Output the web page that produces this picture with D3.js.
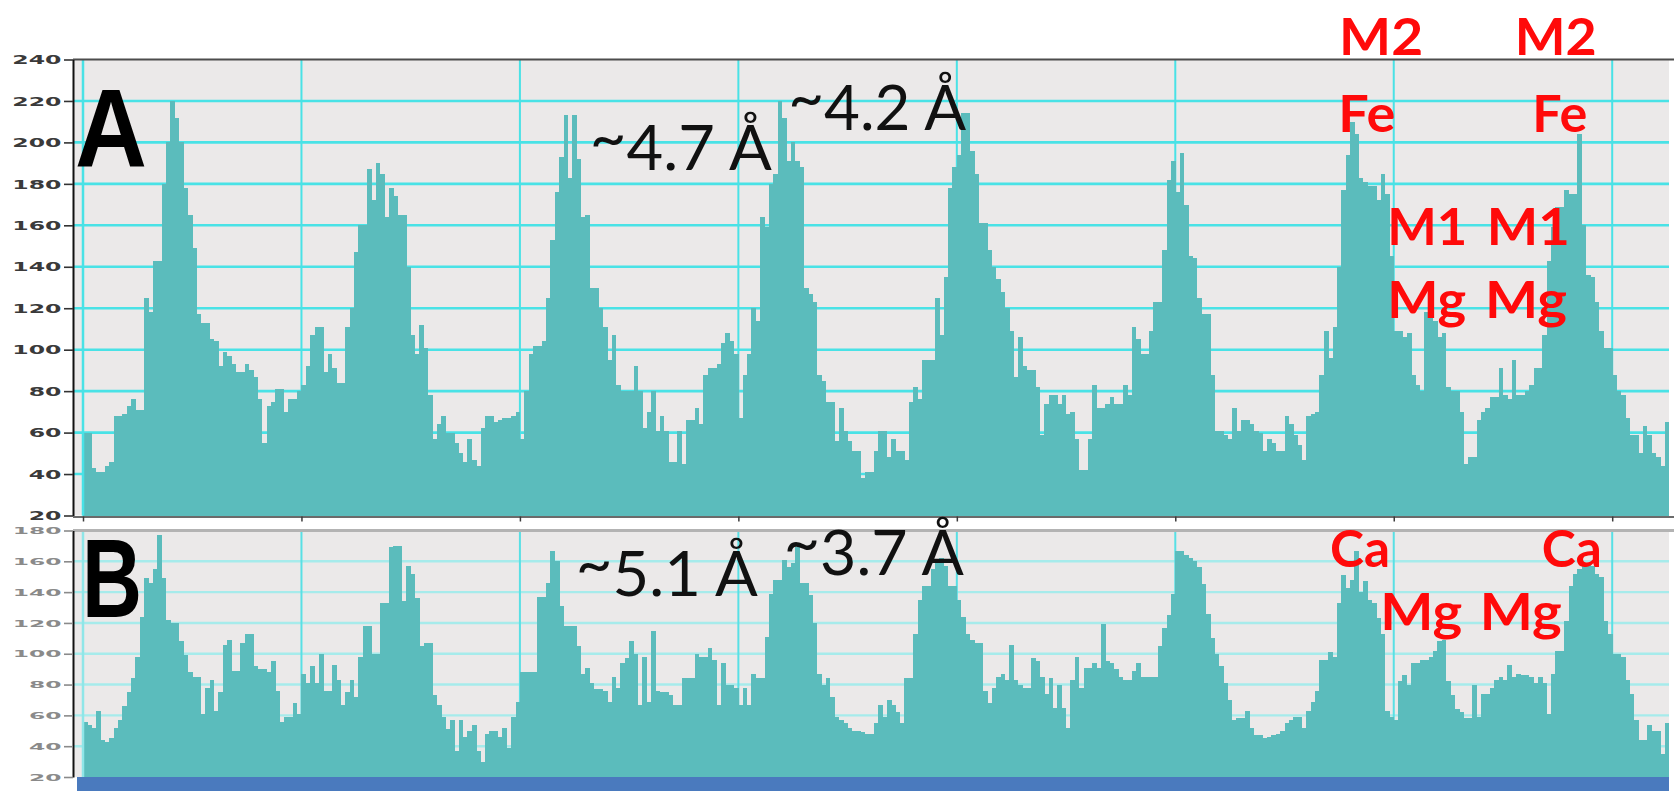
<!DOCTYPE html>
<html>
<head>
<meta charset="utf-8">
<script src="https://cdn.jsdelivr.net/npm/d3@7"></script>
<style>
  html, body { margin: 0; padding: 0; background: #ffffff; }
  svg { display: block; }
</style>
</head>
<body>
<svg id="chart" width="1674" height="791"></svg>
<script>
// Line-profile intensity histograms (one value per bin along the scan line)
const binCount = 363;

const topValues = [
  60,60,43,41,41,44,46,68,68,69,
  73,76,71,71,125,118,143,143,180,200,
  220,212,200,178,165,149,117,113,113,105,
  104,92,99,97,93,89,89,93,90,87,
  76,55,73,75,81,81,70,76,76,80,
  83,92,107,111,111,89,98,91,84,84,
  111,120,147,160,160,187,172,190,185,164,
  178,174,165,165,140,107,98,112,101,78,
  57,64,68,60,60,55,50,46,57,47,
  44,62,68,68,65,66,67,67,68,70,
  57,80,98,102,102,104,125,153,176,193,
  213,183,213,192,164,165,130,130,120,111,
  95,107,83,80,80,80,92,80,62,70,
  80,61,68,61,46,46,61,45,66,66,
  72,64,88,91,91,93,103,108,104,98,
  67,88,98,120,114,164,159,180,185,220,
  212,191,200,191,188,130,127,123,88,85,
  75,75,56,72,61,56,51,51,38,41,
  41,51,61,61,48,57,51,51,47,75,
  82,76,95,95,95,125,107,135,178,188,
  194,214,214,196,185,161,161,148,140,134,
  128,120,109,87,106,92,90,90,82,59,
  74,78,78,74,78,69,70,57,42,42,
  57,83,72,72,74,77,74,74,83,78,
  111,105,98,98,109,123,123,148,182,191,
  176,195,170,145,144,125,117,117,88,61,
  61,59,57,72,61,66,66,64,61,60,
  51,57,55,51,51,68,64,59,54,47,
  68,69,70,88,109,96,111,140,177,194,
  210,204,183,181,179,179,172,185,175,145,
  109,109,106,108,88,83,80,118,118,114,
  106,108,82,80,80,70,45,48,48,66,
  70,72,77,77,91,78,76,95,78,78,
  80,83,91,91,107,143,159,169,169,177,
  175,175,204,160,136,135,123,109,101,101,
  88,80,78,67,59,59,50,63,59,50,
  48,44,65
];

const bottomValues = [
  56,54,52,63,44,43,45,52,57,66,
  75,84,98,124,149,146,155,177,149,122,
  120,120,108,99,88,85,85,61,78,83,
  63,75,106,109,89,89,107,113,113,92,
  90,90,88,95,76,56,59,59,68,61,
  87,81,92,81,100,76,76,93,83,67,
  75,83,72,98,118,118,100,100,133,133,
  169,170,170,134,157,152,136,105,107,107,
  73,67,59,51,57,37,57,46,50,54,
  37,30,48,50,50,46,52,39,59,69,
  88,88,88,88,137,137,146,167,160,131,
  118,118,118,105,87,91,81,77,77,76,
  69,85,78,94,97,108,100,67,98,69,
  115,76,75,75,73,67,67,84,84,84,
  100,98,98,104,96,67,94,80,80,78,
  67,78,67,87,84,84,111,139,148,148,
  161,156,159,169,146,146,138,120,87,80,
  84,72,59,57,55,52,50,50,49,48,
  48,55,67,59,70,67,62,55,84,84,
  113,135,144,144,155,159,162,157,144,144,
  135,124,113,109,107,107,76,68,78,85,
  87,83,106,83,80,78,78,97,95,85,
  74,84,65,80,65,52,83,98,78,91,
  91,94,91,119,95,94,90,85,83,83,
  89,94,85,85,85,85,105,117,125,139,
  167,167,164,162,160,156,145,126,110,100,
  92,81,70,57,58,58,63,52,47,47,
  45,46,47,48,50,55,57,59,59,52,
  63,69,76,96,96,101,98,133,151,143,
  148,167,140,147,135,133,123,113,63,59,
  57,82,86,80,94,94,96,96,98,102,
  108,109,82,73,64,62,58,58,80,59,
  74,74,78,83,85,83,93,85,87,86,
  86,85,81,85,81,61,87,102,102,121,
  144,152,155,159,159,157,152,150,121,113,
  100,100,98,83,74,57,44,44,54,50,
  50,35,55
];

// Axis ticks
const topTicks = [20, 40, 60, 80, 100, 120, 140, 160, 180, 200, 220, 240];
const bottomTicks = [20, 40, 60, 80, 100, 120, 140, 160, 180];
const gridBins = [0, 50, 100, 150, 200, 250, 300, 350];

// Annotations, placed in data units (bin, value)
const topNotes = [
  { text: "A",      bin: -1.83, value: 188.1, kind: "panel", width: 72 },
  { text: "~4.7 Å", bin: 116.0, value: 186.7, kind: "dist",  width: 182 },
  { text: "~4.2 Å", bin: 161.4, value: 206.0, kind: "dist",  width: 178 },
  { text: "M2",     bin: 287.5, value: 242.2, kind: "site",  width: 84 },
  { text: "M2",     bin: 327.7, value: 242.2, kind: "site",  width: 82 },
  { text: "Fe",     bin: 287.3, value: 205.0, kind: "site",  width: 57 },
  { text: "Fe",     bin: 331.7, value: 205.0, kind: "site",  width: 55 },
  { text: "M1",     bin: 298.5, value: 150.5, kind: "site",  width: 80 },
  { text: "M1",     bin: 321.3, value: 150.5, kind: "site",  width: 83 },
  { text: "Mg",     bin: 298.5, value: 115.3, kind: "site",  width: 79 },
  { text: "Mg",     bin: 320.9, value: 115.3, kind: "site",  width: 82 }
];
const bottomNotes = [
  { text: "B",      bin: -0.23, value: 123.9, kind: "panel", width: 60 },
  { text: "~5.1 Å", bin: 112.8, value: 137.5, kind: "dist",  width: 182 },
  { text: "~3.7 Å", bin: 160.4, value: 151.1, kind: "dist",  width: 180 },
  { text: "Ca",     bin: 285.4, value: 156.3, kind: "site",  width: 60 },
  { text: "Ca",     bin: 333.9, value: 156.3, kind: "site",  width: 60 },
  { text: "Mg",     bin: 296.9, value: 115.4, kind: "site",  width: 82 },
  { text: "Mg",     bin: 319.7, value: 115.4, kind: "site",  width: 82 }
];

const noteStyle = {
  panel: { family: "'Liberation Sans', Arial, sans-serif", size: 112, weight: 700, color: "#000000" },
  dist:  { family: "Lato, 'Open Sans', sans-serif", size: 62, weight: 400, color: "#111111" },
  site:  { family: "Lato, 'Open Sans', sans-serif", size: 52, weight: 700, color: "#ff0a0a" }
};

const svg = d3.select("#chart");
const axisX = 73;
const plotRight = 1669;

const x = d3.scaleLinear().domain([0, binCount]).range([83, plotRight]);

const panels = [
  {
    values: topValues, ticks: topTicks, domain: [20, 240], range: [515.5, 59.5], notes: topNotes,
    hGrid: "#49e2e6", hGridW: 2.6, vGrid: "#49e2e6", vGridW: 2,
    labelColor: "#3a3a3a", labelSize: 11.5, labelStretch: 2.05, tickColor: "#333",
    frameColor: "#4d4d4d", frameW: 2, showXAxis: true, band: false
  },
  {
    values: bottomValues, ticks: bottomTicks, domain: [20, 180], range: [777, 530.5], notes: bottomNotes,
    hGrid: "#a6ebeb", hGridW: 2.4, vGrid: "#58e0e5", vGridW: 2,
    labelColor: "#8a8a8a", labelSize: 8.5, labelStretch: 2.75, tickColor: "#8a8a8a",
    frameColor: "#b3b3b3", frameW: 3, showXAxis: false, band: true
  }
];

panels.forEach(p => {
  const y = d3.scaleLinear().domain(p.domain).range(p.range);
  const g = svg.append("g");
  const yTop = y(p.domain[1]);
  const yBot = y(p.domain[0]);

  // plot background
  g.append("rect")
    .attr("x", axisX).attr("y", yTop)
    .attr("width", plotRight - axisX).attr("height", yBot - yTop)
    .attr("fill", "#ebe9e9");

  // horizontal grid
  g.append("g").selectAll("line")
    .data(p.ticks.filter(t => t > p.domain[0] && t < p.domain[1]))
    .join("line")
    .attr("x1", axisX).attr("x2", plotRight)
    .attr("y1", d => y(d)).attr("y2", d => y(d))
    .attr("stroke", p.hGrid).attr("stroke-width", p.hGridW);

  // vertical grid
  g.append("g").selectAll("line")
    .data(gridBins)
    .join("line")
    .attr("x1", d => x(d)).attr("x2", d => x(d))
    .attr("y1", yTop).attr("y2", yBot)
    .attr("stroke", p.vGrid).attr("stroke-width", p.vGridW);

  // histogram bars
  g.append("g").attr("shape-rendering", "crispEdges").selectAll("rect")
    .data(p.values)
    .join("rect")
    .attr("x", (d, i) => x(i))
    .attr("width", (d, i) => x(i + 1) - x(i) + 0.3)
    .attr("y", d => y(d))
    .attr("height", d => yBot - y(d))
    .attr("fill", "#5bbcbc");

  // left edge of the scan window
  g.append("line")
    .attr("x1", x(0)).attr("x2", x(0))
    .attr("y1", yTop).attr("y2", yBot)
    .attr("stroke", p.band ? "#8fe6e8" : "#49e2e6").attr("stroke-width", 2.5);

  // frame along the top
  g.append("line")
    .attr("x1", axisX).attr("x2", 1674)
    .attr("y1", yTop).attr("y2", yTop)
    .attr("stroke", p.frameColor).attr("stroke-width", p.frameW);

  // bottom axis with ticks at the grid bins
  if (p.showXAxis) {
    const xa = g.append("g")
      .attr("transform", `translate(0,${yBot + 1})`)
      .call(d3.axisBottom(x).tickValues(gridBins).tickSize(5).tickSizeOuter(0).tickFormat(""));
    xa.select(".domain").attr("stroke", "#3a3a3a").attr("stroke-width", 1.5)
      .attr("d", `M${axisX},0.5H${1674}`);
    xa.selectAll(".tick line").attr("stroke", "#3a3a3a").attr("stroke-width", 1.5);
  }

  // scan-length band under the lower profile
  if (p.band) {
    g.append("rect")
      .attr("x", 77).attr("y", yBot)
      .attr("width", plotRight - 77).attr("height", 791 - yBot)
      .attr("fill", "#4a7abe");
  }

  // left axis
  const ya = g.append("g")
    .attr("transform", `translate(${axisX},0)`)
    .call(d3.axisLeft(y).tickValues(p.ticks).tickSize(9).tickSizeOuter(0).tickFormat(d3.format("d")));
  ya.select(".domain").attr("stroke", "#111").attr("stroke-width", 2);
  ya.selectAll(".tick line").attr("stroke", p.tickColor).attr("stroke-width", 1.6);
  ya.selectAll(".tick text")
    .attr("x", 0).attr("dy", "0.36em")
    .attr("text-anchor", "end")
    .attr("transform", `translate(-11.5,0) scale(${p.labelStretch},1)`)
    .attr("fill", p.labelColor)
    .style("font-family", "'DejaVu Sans', sans-serif")
    .style("font-weight", 700)
    .style("font-size", p.labelSize + "px");

  // annotations (the tilde of the distance labels sits high, as typeset)
  const notes = g.append("g").selectAll("text")
    .data(p.notes)
    .join("text")
    .attr("x", d => x(d.bin))
    .attr("y", d => y(d.value))
    .attr("textLength", d => d.width)
    .attr("lengthAdjust", "spacingAndGlyphs")
    .attr("fill", d => noteStyle[d.kind].color)
    .style("font-family", d => noteStyle[d.kind].family)
    .style("font-size", d => noteStyle[d.kind].size + "px")
    .style("font-weight", d => noteStyle[d.kind].weight);

  notes.each(function(d) {
    const t = d3.select(this);
    if (d.text.startsWith("~")) {
      t.append("tspan").attr("dy", "-0.17em").text("~");
      t.append("tspan").attr("dy", "0.17em").text(d.text.slice(1));
    } else {
      t.text(d.text);
    }
  });
});
</script>
</body>
</html>
